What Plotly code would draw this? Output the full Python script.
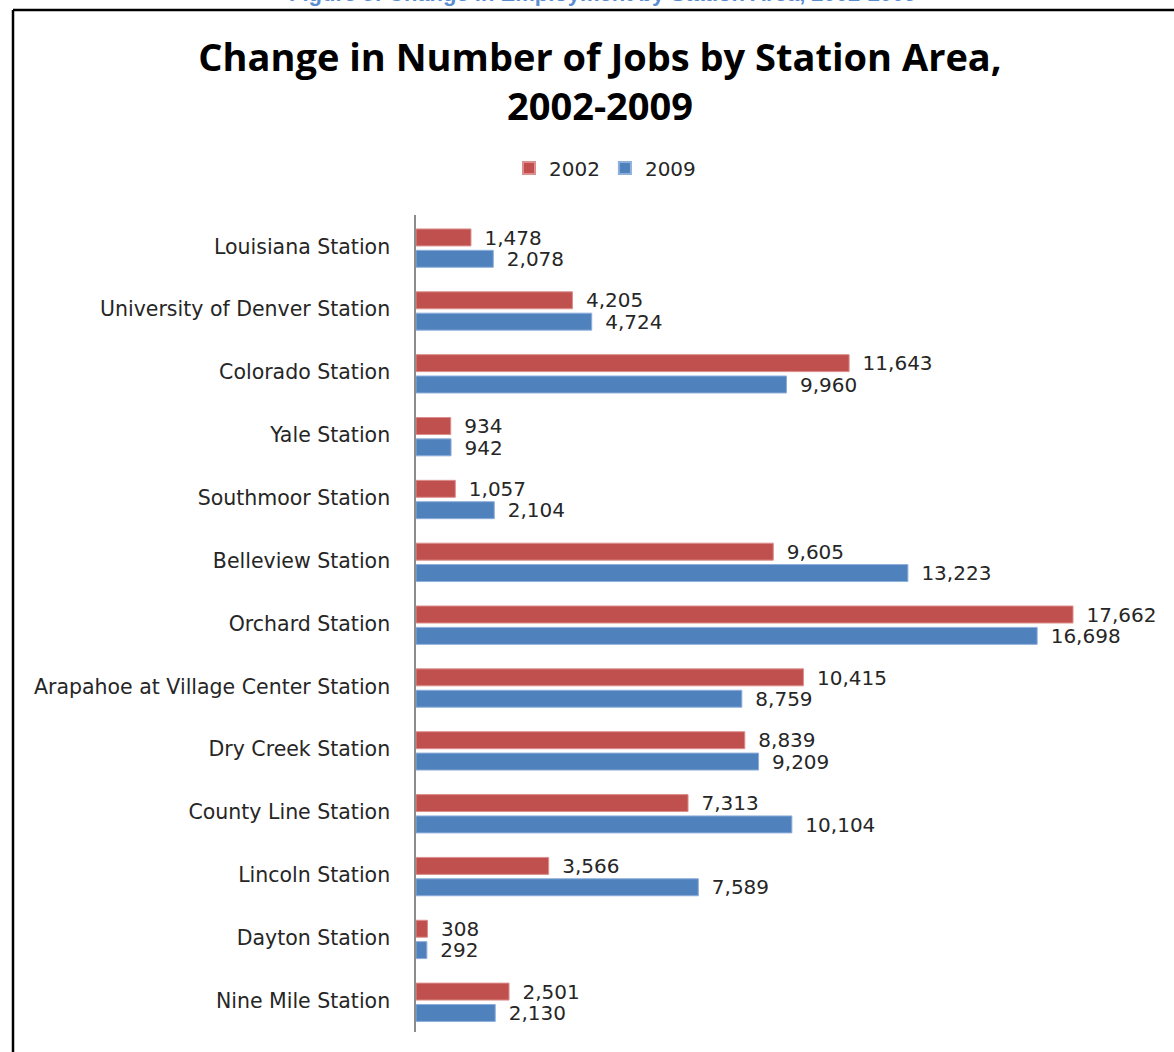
import plotly.graph_objects as go

# Station areas, listed top to bottom
stations = [
    "Louisiana Station",
    "University of Denver Station",
    "Colorado Station",
    "Yale Station",
    "Southmoor Station",
    "Belleview Station",
    "Orchard Station",
    "Arapahoe at Village Center Station",
    "Dry Creek Station",
    "County Line Station",
    "Lincoln Station",
    "Dayton Station",
    "Nine Mile Station",
]
jobs_2002 = [1478, 4205, 11643, 934, 1057, 9605, 17662, 10415, 8839, 7313, 3566, 308, 2501]
jobs_2009 = [2078, 4724, 9960, 942, 2104, 13223, 16698, 8759, 9209, 10104, 7589, 292, 2130]

RED = "#C0504D"
BLUE = "#4F81BD"
TEXT = "#262626"
LABEL_FONT = "DejaVu Sans"

idx = list(range(len(stations)))
y_2002 = [i - 0.143 for i in idx]
y_2009 = [i + 0.197 for i in idx]
bar_w = 0.27
label_dy = 0.035

fig = go.Figure()

fig.add_trace(go.Bar(
    name="2002", orientation="h", x=jobs_2002, y=y_2002, width=bar_w,
    marker=dict(color=RED, line=dict(color="#DC8F8D", width=1)),
    hoverinfo="x+name",
))
fig.add_trace(go.Bar(
    name="2009", orientation="h", x=jobs_2009, y=y_2009, width=bar_w,
    marker=dict(color=BLUE, line=dict(color="#8EAEDB", width=1)),
    hoverinfo="x+name",
))

# value labels just past the end of each bar
for vals, ys in ((jobs_2002, y_2002), (jobs_2009, y_2009)):
    fig.add_trace(go.Scatter(
        x=vals, y=[y + label_dy for y in ys], mode="markers+text",
        text=[f"{v:,}" for v in vals],
        textposition="middle right",
        textfont=dict(family=LABEL_FONT, size=20, color=TEXT),
        marker=dict(size=20, opacity=0),
        showlegend=False, hoverinfo="skip", cliponaxis=False,
    ))

W, H = 1174, 1052
ML, MR, MT, MB = 416, 14, 215, 20
plot_w = W - ML - MR
plot_h = H - MT - MB


def px_x(p):
    return (p - ML) / plot_w


def px_y(p):
    return (H - MB - p) / plot_h


# outer frame (left and top edges visible)
fig.add_shape(type="line", xref="paper", yref="paper",
              x0=px_x(13), x1=px_x(13), y0=px_y(1060), y1=px_y(10),
              line=dict(color="black", width=2.5))
fig.add_shape(type="line", xref="paper", yref="paper",
              x0=px_x(13), x1=px_x(1180), y0=px_y(10), y1=px_y(10),
              line=dict(color="black", width=2.5))

# figure caption above the frame
fig.add_annotation(
    text="<b>Figure 5: Change in Employment by Station Area, 2002-2009</b>",
    xref="paper", yref="paper", x=px_x(603), y=px_y(-7),
    xanchor="center", yanchor="middle", showarrow=False,
    font=dict(family="Liberation Sans", size=22, color="#5B8ED0"),
)

fig.update_layout(
    width=W, height=H,
    margin=dict(l=ML, r=MR, t=MT, b=MB),
    paper_bgcolor="white", plot_bgcolor="white",
    barmode="overlay",
    title=dict(
        text="<b>Change in Number of Jobs by Station Area,<br>2002-2009</b>",
        x=600 / W, xanchor="center", xref="container",
        y=1 - 71 / H, yanchor="top", yref="container",
        font=dict(family="Open Sans", size=38, color="black"),
    ),
    legend=dict(
        orientation="h", x=px_x(605), xanchor="center",
        y=px_y(168), yanchor="middle",
        font=dict(family=LABEL_FONT, size=20, color=TEXT),
        itemsizing="constant", traceorder="normal",
        bgcolor="rgba(0,0,0,0)",
    ),
    xaxis=dict(range=[0, 20000], visible=False, showgrid=False, zeroline=False),
    yaxis=dict(
        range=[len(stations) - 0.5, -0.5],
        tickmode="array", tickvals=idx, ticktext=stations,
        showline=True, linecolor="#8C8C8C", linewidth=1.5,
        showgrid=False, zeroline=False, ticks="",
        ticklabelstandoff=20,
        tickfont=dict(family=LABEL_FONT, size=20.5, color=TEXT),
    ),
    showlegend=True,
)

fig.write_html("out.html")
